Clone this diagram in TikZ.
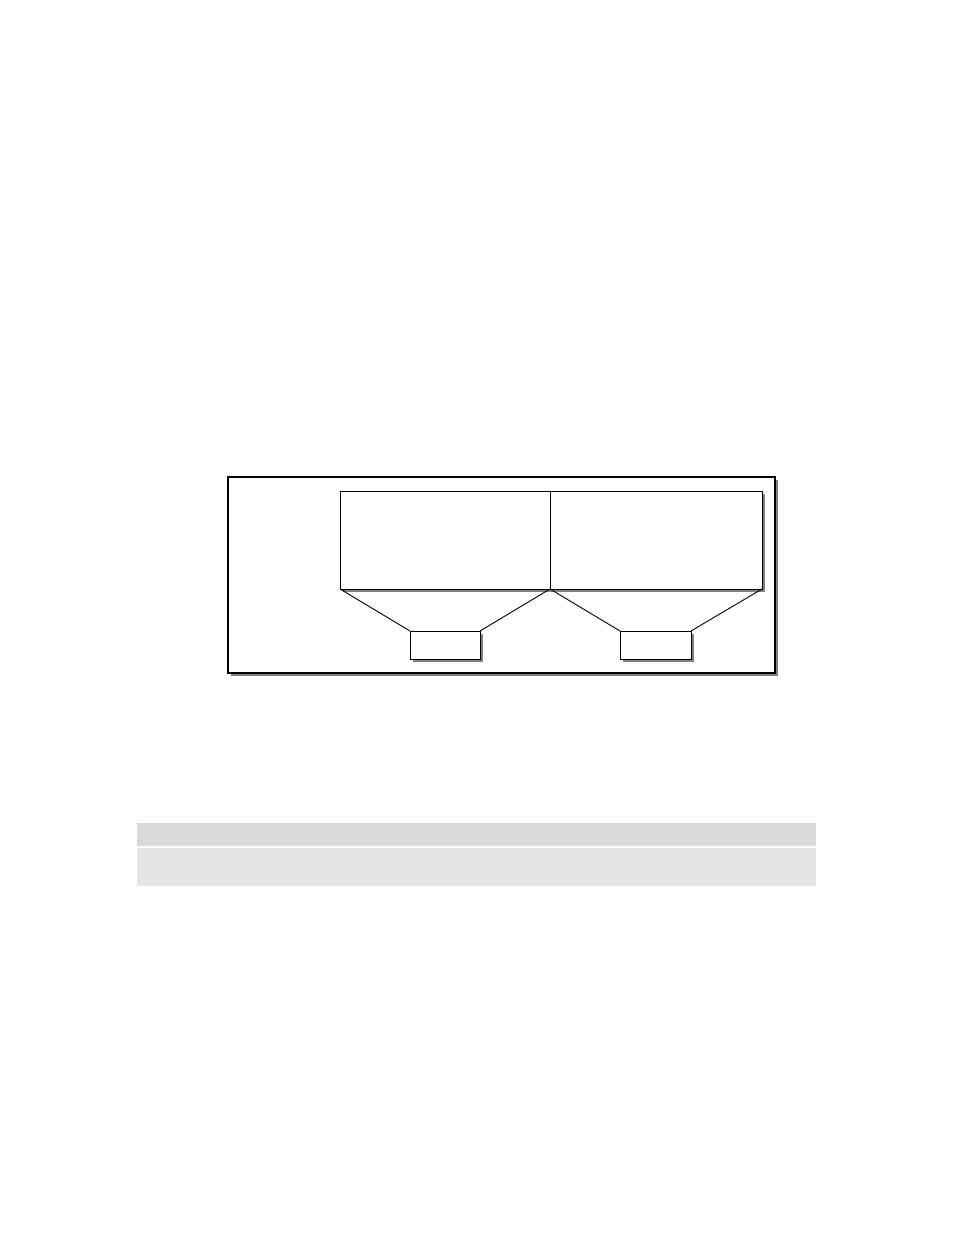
\documentclass[tikz,border=0pt]{standalone}
\usetikzlibrary{shadows}
\definecolor{ombre}{HTML}{808080}
\definecolor{bandeclaire}{HTML}{E5E5E5}
\definecolor{bandefoncee}{HTML}{D9D9D9}
\begin{document}
\begin{tikzpicture}[x=1pt,y=-1pt]
%
% Styles
%
\tikzset{every node/.style={inner sep=0pt, outer sep=0pt, anchor=north west}};%
\tikzset{boite/.style={draw, line width=0.9pt, fill=white, drop shadow={shadow xshift=3pt, shadow yshift=-3pt, fill=ombre, opacity=1}}};%
\tikzset{cadre/.style={boite, line width=1.2pt}};%
\tikzset{lien/.style={line width=0.9pt}};%

%
% Macros
%
\pgfmathsetmacro{\hautbloc}{98}%
\pgfmathsetmacro{\largbloc}{210}%

\useasboundingbox (0,0) rectangle (954,1235);%

%
% Frame and blocks
%
\node[cadre, minimum width=547, minimum height=196] (cadre) at (228,477) {};%
\node[boite, minimum width=\largbloc, minimum height=\hautbloc] (blocg) at (340,491) {};%
\node[boite, minimum width=212, minimum height=\hautbloc] (blocd) at (550,491) {};%
\node[boite, minimum width=70, minimum height=28] (petitg) at (410,631) {};%
\node[boite, minimum width=71, minimum height=28] (petitd) at (620,631) {};%

% The hoppers
\draw[lien] (blocg.south west) -- (petitg.north west);%
\draw[lien] (blocg.south east) -- (petitg.north east);%
\draw[lien] (blocd.south west) -- (petitd.north west);%
\draw[lien] (blocd.south east) -- (petitd.north east);%

% The bands below
\fill[bandefoncee] (137,823) rectangle (816,846);%
\fill[bandeclaire] (137,848) rectangle (816,886);%
\end{tikzpicture}
\end{document}
